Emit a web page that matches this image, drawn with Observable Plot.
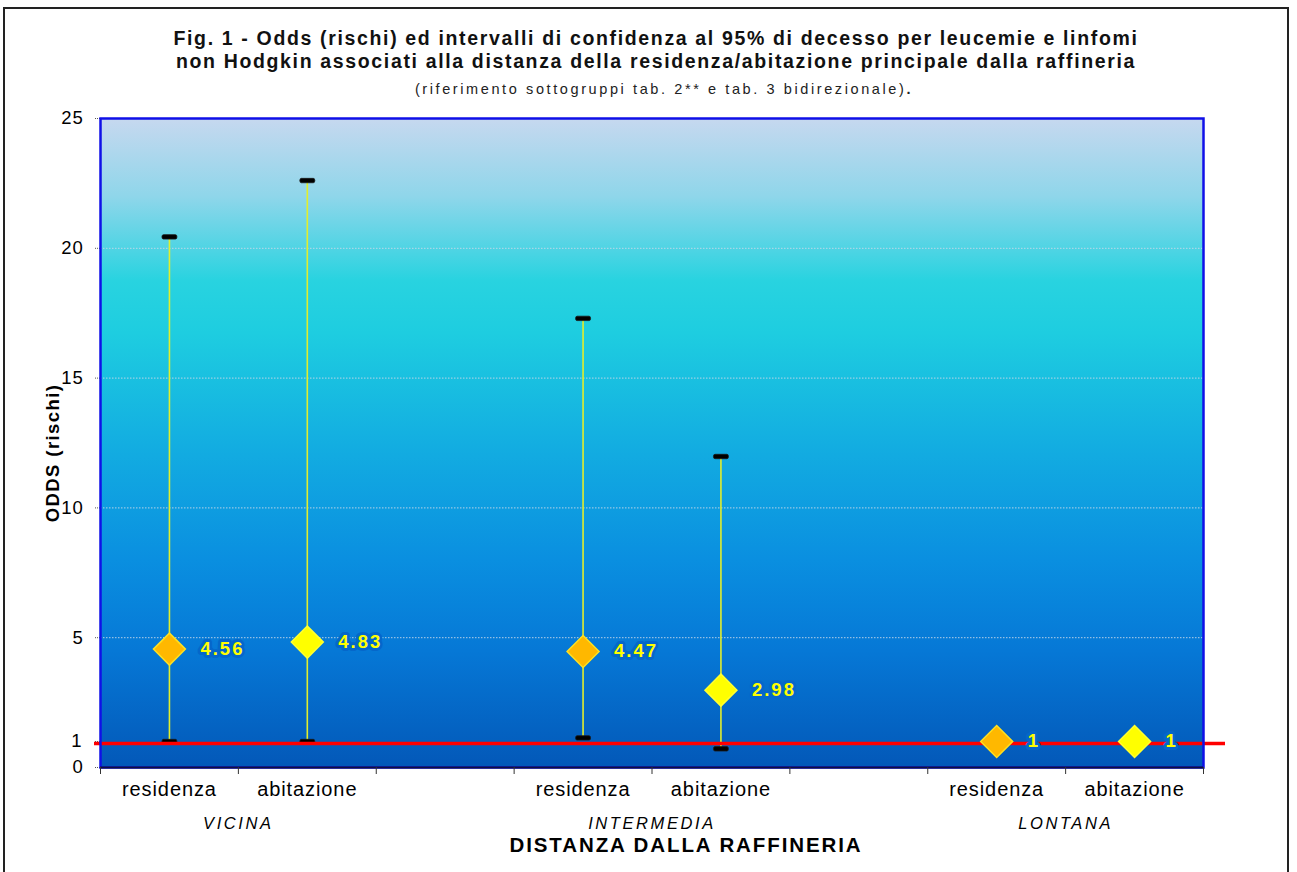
<!DOCTYPE html>
<html><head><meta charset="utf-8">
<script src="https://cdn.jsdelivr.net/npm/d3@7"></script>
<script src="https://cdn.jsdelivr.net/npm/@observablehq/plot@0.6"></script>
<style>
html,body{margin:0;padding:0;background:#fff;width:1297px;height:872px;overflow:hidden;font-family:"Liberation Sans",Arial,sans-serif;}
#border{position:absolute;left:3px;top:7px;width:1286px;height:880px;border:2px solid #222;box-sizing:border-box;pointer-events:none;}
#head{height:105px;text-align:center;position:relative;}
#t1{position:absolute;left:0;width:1312px;top:27px;font-weight:bold;font-size:19.5px;line-height:23px;color:#111;letter-spacing:1.65px;}
#t2{position:absolute;left:0;width:1328px;top:81px;font-size:14.5px;color:#222;letter-spacing:2.6px;}
#chart svg{display:block;font-family:"Liberation Sans",Arial,sans-serif;}
</style></head>
<body>
<div id="border"></div>
<div id="head">
<div id="t1">Fig. 1 - Odds (rischi) ed intervalli di confidenza al 95% di decesso per leucemie e linfomi<br>non Hodgkin associati alla distanza della residenza/abitazione principale dalla raffineria</div>
<div id="t2">(riferimento sottogruppi tab. 2** e tab. 3 bidirezionale)<b>.</b></div>
</div>
<div id="chart"></div>
<script>
const groups = ["VICINA","INTERMEDIA","LONTANA"];
const categories = ["residenza","abitazione"];
const odds  = [4.56, 4.83, 4.47, 2.98, 1, 1];
const lower = [1.0, 1.0, 1.14, 0.72, null, null];
const upper = [20.44, 22.61, 17.3, 11.98, null, null];
const labels = ["4.56","4.83","4.47","2.98","1","1"];
const yTicks = [0, 1, 5, 10, 15, 20, 25];
const gridTicks = [5, 10, 15, 20];
const xTitle = "DISTANZA DALLA RAFFINERIA";
const yTitle = "ODDS (rischi)";

const slotsPerGroup = categories.length + 1;
const rows = [];
groups.forEach((g, gi) => categories.forEach((c, ci) => {
  const i = gi * categories.length + ci;
  rows.push({group: g, cat: c, slot: gi * slotsPerGroup + ci + 0.5,
    odds: odds[i], lo: lower[i], hi: upper[i], label: labels[i]});
}));
const groupRows = groups.map((g, gi) => ({group: g, slot: gi * slotsPerGroup + categories.length / 2}));
const ciRows = rows.filter(d => d.lo != null);
const capRows = ciRows.flatMap(d => [{slot: d.slot, v: d.lo}, {slot: d.slot, v: d.hi}]);
const nSlots = groups.length * slotsPerGroup - 1;

const cap = {draw(ctx) {
  const w = 7.5, h = 2.2, r = 1.5;
  ctx.moveTo(-w + r, -h); ctx.lineTo(w - r, -h); ctx.quadraticCurveTo(w, -h, w, 0);
  ctx.quadraticCurveTo(w, h, w - r, h); ctx.lineTo(-w + r, h); ctx.quadraticCurveTo(-w, h, -w, 0);
  ctx.quadraticCurveTo(-w, -h, -w + r, -h); ctx.closePath();
}};

const plot = Plot.plot({
  width: 1297, height: 767,
  marginLeft: 100, marginRight: 94, marginTop: 13, marginBottom: 105,
  x: {type: "linear", domain: [0, nSlots], axis: null},
  y: {domain: [0, 25], axis: null},
  style: {fontFamily: "Liberation Sans, Arial, sans-serif", color: "#000", background: "transparent"},
  marks: [
    Plot.frame({fill: "url(#bgGrad)", stroke: null}),
    Plot.gridY(gridTicks, {stroke: "#c8d8e8", strokeOpacity: 0.9, strokeDasharray: "1.5,1.5", strokeWidth: 1}),
    Plot.axisY(yTicks, {anchor: "left", tickSize: 5, tickPadding: 12, fontSize: 18.5, stroke: "#555", strokeDasharray: "1,1", label: null}),
    Plot.text([yTitle], {text: d => d, frameAnchor: "left", textAnchor: "middle", rotate: -90, dx: -47, dy: 10,
      fontSize: 18.5, fontWeight: "bold", fill: "#000"}),
    Plot.ruleX(ciRows, {x: "slot", y1: "lo", y2: "hi", stroke: "#e2ee2c", strokeWidth: 1.6}),
    Plot.dot(capRows, {x: "slot", y: "v", symbol: cap, fill: "#000", stroke: "#1a1a1a", strokeWidth: 0.8, r: 1}),
    Plot.ruleY([1], {stroke: "#ff0000", strokeWidth: 3.5, insetLeft: -6, insetRight: -22, dy: 2}),
    Plot.frame({stroke: "#1010e8", strokeWidth: 2.5, fill: null}),
    Plot.ruleY([0], {stroke: "#101040", strokeWidth: 2}),
    Plot.dot(rows, {x: "slot", y: "odds", symbol: "diamond2", r: 14.4,
      fill: d => d.cat === categories[0] ? "#ffb800" : "#ffff00",
      stroke: d => d.cat === categories[0] ? "#ffe020" : "#ffff30", strokeWidth: 1.5}),
    Plot.text(rows, {x: "slot", y: "odds", text: "label", dx: 31, textAnchor: "start",
      fill: "#ffff00", fontWeight: "bold", fontSize: 18.5,
      stroke: "#0567ca", strokeWidth: 6, paintOrder: "stroke"}),
    Plot.axisX(d3.range(nSlots + 1), {anchor: "bottom", tickSize: 7, tickFormat: () => "", stroke: "#333", label: null}),
    Plot.text(rows, {x: "slot", text: "cat", frameAnchor: "bottom", dy: 28, fontSize: 20, fill: "#000"}),
    Plot.text(groupRows, {x: "slot", text: "group", frameAnchor: "bottom", dy: 61, fontSize: 16.5, fontStyle: "italic", fill: "#000"}),
    Plot.text([xTitle], {text: d => d, frameAnchor: "bottom", dx: 34, dy: 84, fontSize: 20.5, fontWeight: "bold", fill: "#000"})
  ]
});

const svg = d3.select(plot);
const defs = svg.insert("defs", ":first-child");
const grad = defs.append("linearGradient").attr("id", "bgGrad").attr("x1", 0).attr("y1", 0).attr("x2", 0).attr("y2", 1);
[[0, "#c6d8ef"], [0.12, "#8fd6ea"], [0.25, "#28d3e0"], [0.33, "#1ecde0"], [0.5, "#13aee1"], [0.68, "#0a8fe0"], [0.82, "#0678d6"], [1, "#0358b8"]]
  .forEach(([o, c]) => grad.append("stop").attr("offset", o).attr("stop-color", c));

// letter spacing to match the wide text rendering of the original
svg.selectAll("text").each(function() {
  const t = this.textContent;
  let ls = null;
  if (categories.includes(t)) ls = 0.9;
  else if (groups.includes(t)) ls = 2.6;
  else if (labels.includes(t) && d3.select(this).style("fill") !== "rgb(0, 0, 0)") ls = 2;
  else if (t === xTitle) ls = 1.9;
  else if (t === yTitle) ls = 1.4;
  else if (yTicks.map(String).includes(t)) ls = 0.8;
  if (ls != null) d3.select(this).style("letter-spacing", ls + "px");
});
document.getElementById("chart").appendChild(plot);
</script>
</body></html>
